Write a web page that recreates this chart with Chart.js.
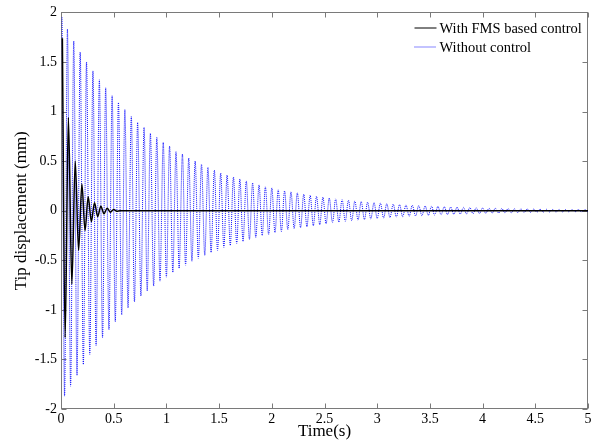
<!DOCTYPE html>
<html>
<head>
<meta charset="utf-8">
<script src="https://cdn.jsdelivr.net/npm/chart.js@4.4.1/dist/chart.umd.min.js"></script>
<style>
  html, body { margin: 0; padding: 0; background: #fff; }
  canvas { display: block; }
</style>
</head>
<body>
<canvas id="c" width="599" height="441"></canvas>
<script>
// Tip displacement of the beam, with and without FMS based control.

const xTicks = [0, 0.5, 1, 1.5, 2, 2.5, 3, 3.5, 4, 4.5, 5];
const yTicks = [-2, -1.5, -1, -0.5, 0, 0.5, 1, 1.5, 2];

const seriesNames = ['With FMS based control', 'Without control'];

// Controlled response: successive extremes (s, mm)
const fmsTime = [0.013, 0.039, 0.07, 0.103, 0.135, 0.167, 0.198, 0.228, 0.258, 0.288,
                 0.318, 0.348, 0.378, 0.408, 0.438, 0.468, 0.5, 0.53, 0.56, 5];
const fmsDisp = [1.74, -1.28, 0.94, -0.74, 0.5, -0.4, 0.27, -0.2, 0.14, -0.11,
                 0.08, -0.06, 0.045, -0.03, 0.025, -0.015, 0.012, -0.006, 0, 0];

// Uncontrolled response: successive peaks and troughs (s, mm)
const freeTime = [
  0.01, 0.034, 0.061, 0.091, 0.121, 0.152, 0.182, 0.212, 0.242, 0.273, 0.303, 0.333, 0.364, 0.394, 0.424, 0.455, 0.485, 0.515, 0.545, 0.576, 0.606, 0.636, 0.667, 0.697, 0.727, 0.758, 0.788, 0.818, 0.848, 0.879, 0.909, 0.939, 0.97,
  1, 1.03, 1.061, 1.091, 1.121, 1.152, 1.182, 1.212, 1.242, 1.273, 1.303, 1.333, 1.364, 1.394, 1.424, 1.455, 1.485, 1.515, 1.545, 1.576, 1.606, 1.636, 1.667, 1.697, 1.727, 1.758, 1.788, 1.818, 1.848, 1.879, 1.909, 1.939, 1.97,
  2, 2.03, 2.061, 2.091, 2.121, 2.152, 2.182, 2.212, 2.242, 2.273, 2.303, 2.333, 2.364, 2.394, 2.424, 2.455, 2.485, 2.515, 2.545, 2.576, 2.606, 2.636, 2.667, 2.697, 2.727, 2.758, 2.788, 2.818, 2.848, 2.879, 2.909, 2.939, 2.97,
  3, 3.03, 3.061, 3.091, 3.121, 3.152, 3.182, 3.212, 3.242, 3.273, 3.303, 3.333, 3.364, 3.394, 3.424, 3.455, 3.485, 3.515, 3.545, 3.576, 3.606, 3.636, 3.667, 3.697, 3.727, 3.758, 3.788, 3.818, 3.848, 3.879, 3.909, 3.939, 3.97,
  4, 4.03, 4.061, 4.091, 4.121, 4.152, 4.182, 4.212, 4.242, 4.273, 4.303, 4.333, 4.364, 4.394, 4.424, 4.455, 4.485, 4.515, 4.545, 4.576, 4.606, 4.636, 4.667, 4.697, 4.727, 4.758, 4.788, 4.818, 4.848, 4.879, 4.909, 4.939, 4.97,
  5
];
const freeDisp = [
  1.95, -1.87, 1.83, -1.77, 1.71, -1.66, 1.60, -1.55, 1.50, -1.45,
  1.41, -1.36, 1.32, -1.28, 1.24, -1.20, 1.16, -1.12, 1.09, -1.05,
  1.02, -0.98, 0.95, -0.92, 0.89, -0.86, 0.84, -0.81, 0.78, -0.76,
  0.74, -0.71, 0.69, -0.67, 0.65, -0.62, 0.60, -0.58, 0.57, -0.55,
  0.53, -0.51, 0.50, -0.48, 0.47, -0.45, 0.44, -0.42, 0.41, -0.40,
  0.38, -0.37, 0.36, -0.35, 0.34, -0.33, 0.32, -0.31, 0.30, -0.29,
  0.28, -0.27, 0.26, -0.25, 0.24, -0.24, 0.23, -0.22, 0.21, -0.21,
  0.20, -0.19, 0.19, -0.18, 0.18, -0.17, 0.165, -0.16, 0.155, -0.15,
  0.145, -0.14, 0.136, -0.13, 0.127, -0.12, 0.119, -0.115, 0.112, -0.108,
  0.105, -0.10, 0.098, -0.095, 0.092, -0.089, 0.086, -0.083, 0.081, -0.078,
  0.076, -0.073, 0.071, -0.069, 0.066, -0.064, 0.062, -0.06, 0.058, -0.056,
  0.055, -0.053, 0.051, -0.05, 0.048, -0.047, 0.045, -0.044, 0.042, -0.041,
  0.04, -0.038, 0.037, -0.036, 0.035, -0.034, 0.033, -0.032, 0.031, -0.03,
  0.029, -0.028, 0.027, -0.026, 0.025, -0.024, 0.024, -0.023, 0.022, -0.021,
  0.021, -0.02, 0.019, -0.019, 0.018, -0.017, 0.017, -0.016, 0.016, -0.015,
  0.015, -0.014, 0.014, -0.013, 0.013, -0.013, 0.012, -0.012, 0.011, -0.011,
  0.011, -0.01, 0.01, -0.01, 0.009, -0.009
];

function toPoints(ts, vs) {
  const n = Math.min(ts.length, vs.length);
  const pts = [];
  for (let i = 0; i < n; i++) pts.push({ x: ts[i], y: vs[i] });
  return pts;
}

const SERIF = '"Liberation Serif", "Times New Roman", serif';
const FRAME = '#7a7a7a';

// MATLAB-style box: frame with inward ticks on all four sides, plus legend
const boxPlugin = {
  id: 'boxFrame',
  beforeDatasetsDraw(chart) {
    const { ctx, chartArea: a, scales } = chart;
    const L = Math.round(a.left) + 0.5, R = Math.round(a.right) - 0.5;
    const T = Math.round(a.top) + 0.5, B = Math.round(a.bottom) - 0.5;
    ctx.save();
    ctx.strokeStyle = FRAME;
    ctx.lineWidth = 1;
    ctx.setLineDash([]);
    ctx.strokeRect(L, T, R - L, B - T);
    const tl = 5;
    ctx.beginPath();
    xTicks.forEach(v => {
      const px = Math.round(scales.x.getPixelForValue(v)) + 0.5;
      ctx.moveTo(px, B); ctx.lineTo(px, B - tl);
      ctx.moveTo(px, T); ctx.lineTo(px, T + tl);
    });
    yTicks.forEach(v => {
      const py = Math.round(scales.y.getPixelForValue(v)) + 0.5;
      ctx.moveTo(L, py); ctx.lineTo(L + tl, py);
      ctx.moveTo(R, py); ctx.lineTo(R - tl, py);
    });
    ctx.stroke();
    ctx.restore();
  },
  afterDatasetsDraw(chart) {
    const { ctx, chartArea: a } = chart;
    const R = Math.round(a.right) - 0.5, T = Math.round(a.top) + 0.5;
    ctx.save();
    ctx.font = '14.5px ' + SERIF;
    ctx.textBaseline = 'middle';
    ctx.textAlign = 'left';
    const lx0 = R - 173, lx1 = R - 151, tx = R - 148;
    chart.data.datasets.forEach((ds, i) => {
      const y = T + 15.5 + i * 19;
      ctx.beginPath();
      ctx.strokeStyle = ds.borderColor;
      ctx.lineWidth = 1;
      ctx.setLineDash(ds.borderDash || []);
      ctx.moveTo(lx0, y); ctx.lineTo(lx1, y);
      ctx.stroke();
      ctx.setLineDash([]);
      ctx.fillStyle = '#000';
      ctx.fillText(ds.label, tx, y + 1);
    });
    ctx.restore();
  }
};

new Chart(document.getElementById('c'), {
  type: 'line',
  data: {
    datasets: [
      {
        label: seriesNames[0],
        data: toPoints(fmsTime, fmsDisp),
        borderColor: '#000000',
        borderWidth: 1.5,
        pointRadius: 0,
        cubicInterpolationMode: 'monotone',
        fill: false
      },
      {
        label: seriesNames[1],
        data: toPoints(freeTime, freeDisp),
        borderColor: '#1010ff',
        borderWidth: 1,
        borderDash: [1, 1],
        pointRadius: 0,
        cubicInterpolationMode: 'monotone',
        fill: false
      }
    ]
  },
  options: {
    responsive: false,
    animation: false,
    devicePixelRatio: 1,
    layout: { padding: { top: 11, right: 11, left: 0, bottom: 0 } },
    plugins: {
      legend: { display: false },
      tooltip: { enabled: false }
    },
    scales: {
      x: {
        type: 'linear',
        min: 0, max: 5,
        afterBuildTicks: s => { s.ticks = xTicks.map(v => ({ value: v })); },
        afterFit: s => { s.height = 32; },
        grid: { display: false, drawTicks: false },
        border: { display: false },
        ticks: {
          padding: 2,
          color: '#000',
          font: { family: SERIF, size: 14 },
          maxRotation: 0,
          autoSkip: false,
          callback: v => String(v)
        },
        title: {
          display: true,
          text: 'Time(s)',
          color: '#000',
          font: { family: SERIF, size: 17, lineHeight: 1.1 },
          padding: { top: 0, bottom: 0 }
        }
      },
      y: {
        type: 'linear',
        min: -2, max: 2,
        afterBuildTicks: s => { s.ticks = yTicks.map(v => ({ value: v })); },
        afterFit: s => { s.width = 61; },
        grid: { display: false, drawTicks: false },
        border: { display: false },
        ticks: {
          padding: 4,
          color: '#000',
          font: { family: SERIF, size: 14 },
          autoSkip: false,
          callback: v => String(v)
        },
        title: {
          display: true,
          text: 'Tip displacement (mm)',
          color: '#000',
          font: { family: SERIF, size: 17, lineHeight: 1.1 },
          padding: { top: 12, bottom: 0 }
        }
      }
    }
  },
  plugins: [boxPlugin]
});
</script>
</body>
</html>
